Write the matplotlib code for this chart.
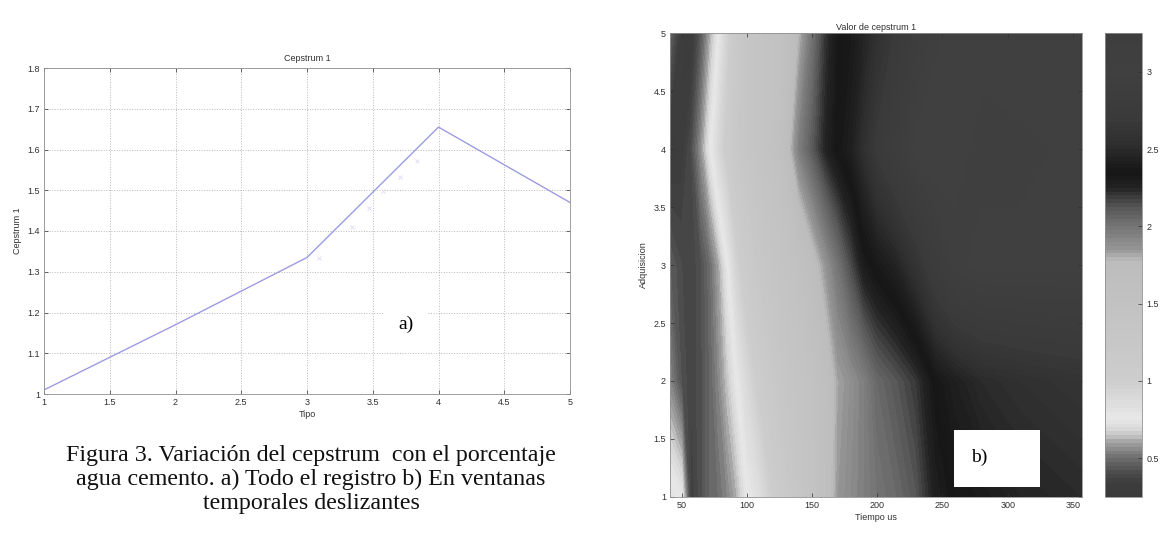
import numpy as np
import matplotlib.pyplot as plt
from matplotlib.colors import LinearSegmentedColormap
from matplotlib.patches import Rectangle

# Panel a): cepstrum 1 over the whole record, one value per mix type
tipo = [1, 2, 3, 4, 5]
cepstrum = [1.01, 1.17, 1.335, 1.655, 1.47]
tipo_pts = [3.09, 3.34, 3.47, 3.58, 3.71, 3.84]
cepstrum_pts = [1.334, 1.411, 1.456, 1.497, 1.533, 1.571]

# Panel b): cepstrum 1 in sliding time windows, one row per acquisition
tiempo = [41, 50, 57, 65, 72, 78, 85, 92, 100, 110, 125, 140, 150,
          160, 170, 180, 190, 200, 215, 230, 245, 260, 280, 310, 357]
adquisicion = [1, 2, 3, 4, 5]
valor_adq1 = [0.80, 0.75, 0.35, 0.42, 0.48, 0.50, 0.55, 0.62, 0.75, 0.85, 1.10, 1.30, 1.45,
              1.65, 1.85, 1.90, 1.95, 2.00, 2.05, 2.12, 2.28, 2.35, 2.38, 2.45, 2.50]
valor_adq2 = [0.55, 0.42, 0.38, 0.42, 0.48, 0.55, 0.65, 0.75, 0.90, 1.05, 1.25, 1.40, 1.50,
              1.65, 1.82, 1.88, 1.95, 2.05, 2.12, 2.20, 2.35, 2.42, 2.50, 2.55, 2.60]
valor_adq3 = [0.45, 0.40, 0.38, 0.42, 0.50, 0.60, 0.75, 0.95, 1.10, 1.25, 1.40, 1.55, 1.70,
              1.85, 2.00, 2.15, 2.30, 2.37, 2.45, 2.60, 2.80, 2.95, 3.00, 3.00, 3.00]
valor_adq4 = [0.30, 0.33, 0.40, 0.58, 0.75, 0.90, 1.05, 1.20, 1.30, 1.40, 1.55, 1.95, 2.10,
              2.25, 2.35, 2.42, 2.55, 2.70, 2.85, 3.00, 3.05, 3.00, 2.95, 2.95, 3.00]
valor_adq5 = [0.47, 0.32, 0.30, 0.45, 0.62, 0.75, 0.95, 1.15, 1.30, 1.40, 1.50, 1.78, 2.00,
              2.20, 2.33, 2.37, 2.45, 2.55, 2.70, 2.85, 2.95, 3.00, 3.00, 3.05, 3.05]

# grey map used for the cepstrum values (value -> grey level 0..255)
gray_vals = [0.25, 0.35, 0.45, 0.52, 0.60, 0.68, 0.75, 0.85, 1.00, 1.30, 1.60, 1.78,
             1.85, 1.95, 2.05, 2.15, 2.25, 2.35, 2.45, 2.55, 2.70, 3.00, 3.25]
gray_levels = [58, 62, 90, 120, 165, 215, 232, 222, 205, 198, 192, 188,
               150, 128, 105, 78, 35, 22, 35, 48, 58, 64, 62]
vmin, vmax = 0.25, 3.25
cmap = LinearSegmentedColormap.from_list(
    'cepstrum_gray',
    [((v - vmin) / (vmax - vmin), (g / 255, g / 255, g / 255)) for v, g in zip(gray_vals, gray_levels)])

plt.rcParams['font.family'] = 'Liberation Sans'
txt = '#303030'
small = 6.5

fig = plt.figure(figsize=(11.64, 5.36), dpi=100)

# ---- a) line plot
ax1 = fig.add_axes([44 / 1164, 1 - 394 / 536, 526 / 1164, 326 / 536])
ax1.plot(tipo, cepstrum, color='#9c9ce0', lw=1.0)
ax1.plot(tipo_pts, cepstrum_pts, 'x', color='#dcdcf2', ms=3, mew=0.6)
ax1.set_xlim(1, 5)
ax1.set_ylim(1, 1.8)
ax1.set_xticks(np.arange(1, 5.01, 0.5))
ax1.set_xticklabels(['1', '1.5', '2', '2.5', '3', '3.5', '4', '4.5', '5'])
ax1.set_yticks(np.arange(1, 1.801, 0.1))
ax1.set_yticklabels(['1', '1.1', '1.2', '1.3', '1.4', '1.5', '1.6', '1.7', '1.8'])
ax1.grid(True, ls=':', color='#b8b8b8', lw=0.7)
ax1.set_title('Cepstrum 1', fontsize=small, color=txt, pad=5)
ax1.set_xlabel('Tipo', fontsize=small, color=txt, labelpad=2)
ax1.set_ylabel('Cepstrum 1', fontsize=small, color=txt, labelpad=4)
ax1.text(3.75, 1.17, 'a)', fontsize=14, family='Liberation Serif', ha='center', va='center',
         bbox=dict(facecolor='white', edgecolor='none', pad=10))

# ---- b) sliding window map
ax2 = fig.add_axes([670 / 1164, 1 - 497 / 536, 412 / 1164, 464 / 536])
Z = np.array([valor_adq1, valor_adq2, valor_adq3, valor_adq4, valor_adq5])
levels = np.linspace(vmin, vmax, 121)
cs = ax2.contourf(tiempo, adquisicion, Z, levels=levels, cmap=cmap, vmin=vmin, vmax=vmax)
ax2.set_xlim(41, 357)
ax2.set_ylim(1, 5)
ax2.set_xticks([50, 100, 150, 200, 250, 300, 350])
ax2.set_yticks(np.arange(1, 5.01, 0.5))
ax2.set_yticklabels(['1', '1.5', '2', '2.5', '3', '3.5', '4', '4.5', '5'])
ax2.set_title('Valor de cepstrum 1', fontsize=small, color=txt, pad=2)
ax2.set_xlabel('Tiempo us', fontsize=small, color=txt, labelpad=2)
ax2.set_ylabel('Adquisicion', fontsize=small, color=txt, labelpad=4)
ax2.add_patch(Rectangle((259, 1.09), 66, 0.49, facecolor='white', edgecolor='none', zorder=5))
ax2.text(272, 1.34, 'b)', fontsize=14, family='Liberation Serif', ha='left', va='center', zorder=6)

# ---- colour bar
cax = fig.add_axes([1105 / 1164, 1 - 497 / 536, 37 / 1164, 464 / 536])
cb = fig.colorbar(cs, cax=cax, ticks=[0.5, 1, 1.5, 2, 2.5, 3])
cb.ax.set_yticklabels(['0.5', '1', '1.5', '2', '2.5', '3'])
cb.outline.set_edgecolor('#909090')
cb.outline.set_linewidth(0.6)

for ax in (ax1, ax2, cax):
    ax.tick_params(direction='in', length=3, width=0.5, labelsize=small, colors=txt,
                   top=(ax is not cax), right=True, pad=3)
    for s in ax.spines.values():
        s.set_color('#909090')
        s.set_linewidth(0.6)

# caption
caption = ['Figura 3. Variación del cepstrum  con el porcentaje',
           'agua cemento. a) Todo el registro b) En ventanas',
           'temporales deslizantes']
for i, line in enumerate(caption):
    fig.text(311 / 1164, 1 - (455 + 24.5 * i) / 536, line, fontsize=17.3,
             family='Liberation Serif', ha='center', va='center', color='#111111')

fig.savefig('out.png', dpi=100)
